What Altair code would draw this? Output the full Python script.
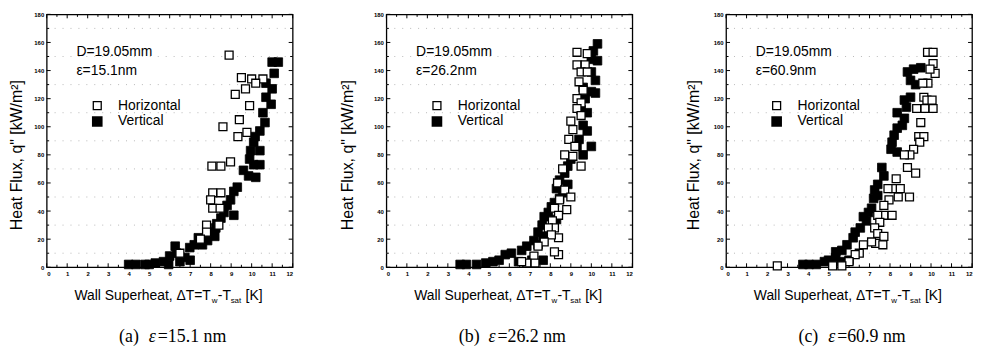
import altair as alt
import pandas as pd

# ---------------- data ----------------
# panel (a) eps = 15.1 nm
a_h_x = [8.9, 9.5, 10.0, 10.55, 10.2, 9.2, 9.7, 9.9, 9.4, 8.6, 9.33, 9.77, 8.06, 8.5, 8.97,
         8.1, 8.5, 8.0, 8.1, 8.46, 7.8, 7.8, 6.5, 7.5, 8.4]
a_h_q = [151, 135, 134, 134, 131, 123, 127, 115, 105, 100, 93, 96, 72, 72, 75,
         53, 53, 48, 42, 42, 30, 25, 10, 20, 30]
a_v_x = [11.0, 11.3, 11.1, 10.7, 11.0, 10.7, 10.95, 10.55, 10.65, 10.4, 10.17, 10.1, 9.95, 10.4, 9.9,
         10.1, 10.4, 9.6, 9.85, 10.2, 9.3, 9.13, 8.97, 8.8, 9.13, 8.65, 8.5, 8.25, 8.3, 8.0,
         7.85, 8.2, 7.4, 7.2, 7.6, 6.98, 6.74, 6.34, 6.27, 6.5, 7.0, 6.0, 5.7, 5.3, 4.8,
         4.35, 4.0, 5.95, 5.0]
a_v_q = [146, 146, 138, 131, 127, 121, 116, 110, 103, 97, 93, 89, 83, 83, 77,
         73, 73, 69, 65, 64, 57, 54, 48, 44, 37, 39, 35, 28, 31, 25,
         19, 22, 21, 16, 16, 14, 7, 10, 15, 4, 5, 8, 4, 3, 2,
         2, 2, 2, 2]

# panel (b) eps = 26.2 nm
b_h_x = [9.3, 9.8, 9.3, 9.7, 9.5, 9.8, 9.4, 9.6, 9.3, 9.5, 9.3, 9.5, 9.0, 9.1, 8.9,
         9.2, 8.7, 9.1, 9.5, 8.6, 8.35, 8.7, 9.0, 8.45, 8.8, 8.2, 8.4, 8.1, 8.2, 7.9,
         8.4, 8.05, 7.7, 8.4, 8.2, 7.4, 7.2, 7.25, 6.85, 6.6]
b_h_q = [153, 152, 144, 144, 139, 139, 132, 126, 120, 117, 113, 108, 104, 98, 91,
         86, 80, 79, 72, 70, 60, 55, 50, 48, 41, 42, 37, 33, 28, 28,
         21, 23, 18, 9, 11, 15, 8, 3, 3, 4]
b_v_x = [10.3, 10.1, 10.0, 10.3, 10.0, 10.2, 9.6, 10.0, 10.2, 9.7, 9.5, 9.8, 9.6, 9.8, 9.4,
         9.3, 10.0, 9.6, 9.0, 8.85, 8.7, 8.45, 8.85, 8.3, 8.6, 8.45, 8.2, 8.05, 7.9, 7.7,
         8.3, 7.6, 7.4, 7.65, 7.2, 6.85, 7.4, 6.6, 6.1, 5.8, 5.5, 5.2, 4.85, 4.4, 3.9,
         3.6, 6.45, 7.1, 7.65]
b_v_q = [159, 154, 148, 147, 139, 133, 128, 125, 124, 120, 112, 110, 101, 97, 91,
         86, 86, 80, 77, 72, 67, 62, 59, 56, 53, 49, 46, 43, 39, 36,
         34, 30, 25, 22, 19, 15, 16, 12, 10, 9, 5, 4, 3, 2, 2,
         2, 4, 5, 5]

# panel (c) eps = 60.9 nm
c_h_x = [9.83, 10.1, 10.1, 10.2, 9.95, 9.85, 9.6, 9.65, 9.8, 10.05, 9.7, 10.1, 9.3, 9.5, 9.4,
         9.65, 9.45, 9.15, 8.97, 8.7, 8.85, 9.25, 8.3, 8.2, 8.5, 7.9, 8.4, 8.95, 7.95, 7.7,
         7.7, 8.1, 7.4, 7.5, 7.25, 7.4, 7.7, 7.3, 7.65, 7.1, 6.7, 6.5, 6.3, 6.0, 5.65,
         5.2, 2.5]
c_h_q = [153, 153, 145, 138, 141, 131, 131, 121, 119, 119, 113, 113, 113, 103, 93,
         93, 89, 84, 80, 80, 71, 67, 63, 56, 56, 56, 50, 50, 48, 44,
         37, 37, 37, 32, 28, 24, 22, 17, 16, 18, 16, 10, 9, 4, 1,
         1, 1]
c_v_x = [9.15, 9.5, 8.85, 9.0, 9.25, 9.0, 8.7, 8.8, 8.35, 8.7, 8.35, 8.6, 8.2, 8.1, 8.05,
         8.35, 7.6, 7.7, 7.4, 7.25, 7.4, 7.2, 7.1, 6.95, 6.7, 6.85, 6.55, 6.3, 6.2, 5.9,
         5.65, 5.35, 5.35, 5.0, 4.8, 4.4, 4.05, 3.75, 6.0, 5.65]
c_v_q = [141, 142, 139, 133, 130, 121, 119, 114, 110, 106, 99, 101, 94, 89, 84,
         82, 71, 65, 59, 55, 51, 49, 42, 39, 36, 33, 28, 25, 21, 16,
         12, 11, 7, 5, 4, 2, 2, 2, 5, 4]

x_major = list(range(0, 13))
x_minor = [i + 0.5 for i in range(12)]
y_major = list(range(0, 181, 20))
y_minor = list(range(10, 180, 20))
grid_levels = list(range(10, 180, 20))

series_names = ["Horizontal", "Vertical"]
diameter_text = "D=19.05mm"
eps_texts = ["ε=15.1nm", "ε=26.2nm", "ε=60.9nm"]
cap_letters = ["(a)", "(b)", "(c)"]
cap_values = ["=15.1  nm", "=26.2  nm", "=60.9  nm"]
y_title = "Heat Flux, q\" [kW/m²]"

# ---------------- layout ----------------
W, H = 248, 255
SANS = "Liberation Sans"
SERIF = "Liberation Serif"
xs = alt.Scale(domain=[0, 12], nice=False, zero=False)
ys = alt.Scale(domain=[0, 180], nice=False, zero=False)
xaxis = alt.Axis(values=x_major, labelFontSize=6, labelFontWeight="bold", labelColor="black",
                 ticks=False, domain=False, grid=False, labelPadding=3, labelFont=SANS, title=None)
yaxis = alt.Axis(values=y_major, labelFontSize=6, labelFontWeight="bold", labelColor="black",
                 ticks=False, domain=False, grid=False, labelPadding=3, labelFont=SANS, title=None)


def X():
    return alt.X("x:Q", scale=xs, axis=xaxis, title=None)


def Y():
    return alt.Y("q:Q", scale=ys, axis=yaxis, title=None)


one = pd.DataFrame({"k": [0]})


def txt(text, x, y, size=14, font=SANS, align="left", baseline="middle", angle=0, style="normal"):
    return alt.Chart(one).mark_text(text=text, fontSize=size, font=font, align=align,
                                    baseline=baseline, angle=angle, fontStyle=style,
                                    color="black").encode(x=alt.value(x), y=alt.value(y))


def panel(hx, hq, vx, vq, eps_text, cap_letter, cap_value, ytitle_dx):
    dv = pd.DataFrame({"x": vx, "q": vq})
    dh = pd.DataFrame({"x": hx, "q": hq})
    layers = []
    # faint dotted grid
    layers.append(alt.Chart(pd.DataFrame({"q": grid_levels})).mark_rule(
        color="#a8a8a8", strokeWidth=0.8, strokeDash=[1, 7]).encode(
        y=Y(), x=alt.value(0), x2=alt.value(W)))
    # inward ticks
    for vals, ln in ((x_major, 4), (x_minor, 2.5)):
        d = pd.DataFrame({"x": vals})
        layers.append(alt.Chart(d).mark_rule(color="black", strokeWidth=1).encode(
            x=X(), y=alt.value(H), y2=alt.value(H - ln)))
        layers.append(alt.Chart(d).mark_rule(color="black", strokeWidth=1).encode(
            x=X(), y=alt.value(0), y2=alt.value(ln)))
    for vals, ln in ((y_major, 4), (y_minor, 2.5)):
        d = pd.DataFrame({"q": vals})
        layers.append(alt.Chart(d).mark_rule(color="black", strokeWidth=1).encode(
            y=Y(), x=alt.value(0), x2=alt.value(ln)))
        layers.append(alt.Chart(d).mark_rule(color="black", strokeWidth=1).encode(
            y=Y(), x=alt.value(W), x2=alt.value(W - ln)))
    # data
    layers.append(alt.Chart(dv).mark_point(shape="square", size=76, filled=True, fill="black",
                                           stroke="black", strokeWidth=0.8, opacity=1).encode(x=X(), y=Y()))
    layers.append(alt.Chart(dh).mark_point(shape="square", size=64, filled=True, fill="white",
                                           stroke="black", strokeWidth=1.3, opacity=1).encode(x=X(), y=Y()))
    # annotation
    layers.append(txt(diameter_text, 30, 38))
    layers.append(txt(eps_text, 30, 57))
    layers.append(alt.Chart(one).mark_point(shape="square", size=64, filled=True, fill="white",
                                            stroke="black", strokeWidth=1.3, opacity=1).encode(
        x=alt.value(51), y=alt.value(92)))
    layers.append(alt.Chart(one).mark_point(shape="square", size=76, filled=True, fill="black",
                                            stroke="black", opacity=1).encode(
        x=alt.value(51), y=alt.value(108)))
    layers.append(txt(series_names[0], 72, 92))
    layers.append(txt(series_names[1], 72, 108))
    # y title
    layers.append(txt(y_title, ytitle_dx, 142, size=16, align="center", angle=270))
    # x title with subscripts
    x0 = W / 2 - 96
    bl = H + 33
    layers.append(txt("Wall Superheat, ΔT=T", x0, bl, baseline="alphabetic"))
    layers.append(txt("w", x0 + 138.5, bl + 3, size=8, baseline="alphabetic"))
    layers.append(txt("-T", x0 + 144.5, bl, baseline="alphabetic"))
    layers.append(txt("sat", x0 + 157.5, bl + 3, size=8, baseline="alphabetic"))
    layers.append(txt("[K]", x0 + 172.5, bl, baseline="alphabetic"))
    # caption
    cx = 73
    cy = H + 70
    layers.append(txt(cap_letter, cx, cy, size=18, font=SERIF))
    layers.append(txt("ε", cx + 30, cy, size=18, font=SERIF, style="italic"))
    layers.append(txt(cap_value, cx + 39, cy, size=18, font=SERIF))
    return alt.layer(*layers).properties(width=W, height=H)


pa = panel(a_h_x, a_h_q, a_v_x, a_v_q, eps_texts[0], cap_letters[0], cap_values[0], -30)
pb = panel(b_h_x, b_h_q, b_v_x, b_v_q, eps_texts[1], cap_letters[1], cap_values[1], -39)
pc = panel(c_h_x, c_h_q, c_v_x, c_v_q, eps_texts[2], cap_letters[2], cap_values[2], -32)

chart = alt.hconcat(pa, pb, pc, spacing=94.5, bounds="flush").properties(
    padding={"left": 0, "top": 1, "right": 0, "bottom": 0},
    background="white",
).configure_view(stroke="black", strokeWidth=1.3)

chart.save("out.html", embed_options={"renderer": "svg", "actions": False})
